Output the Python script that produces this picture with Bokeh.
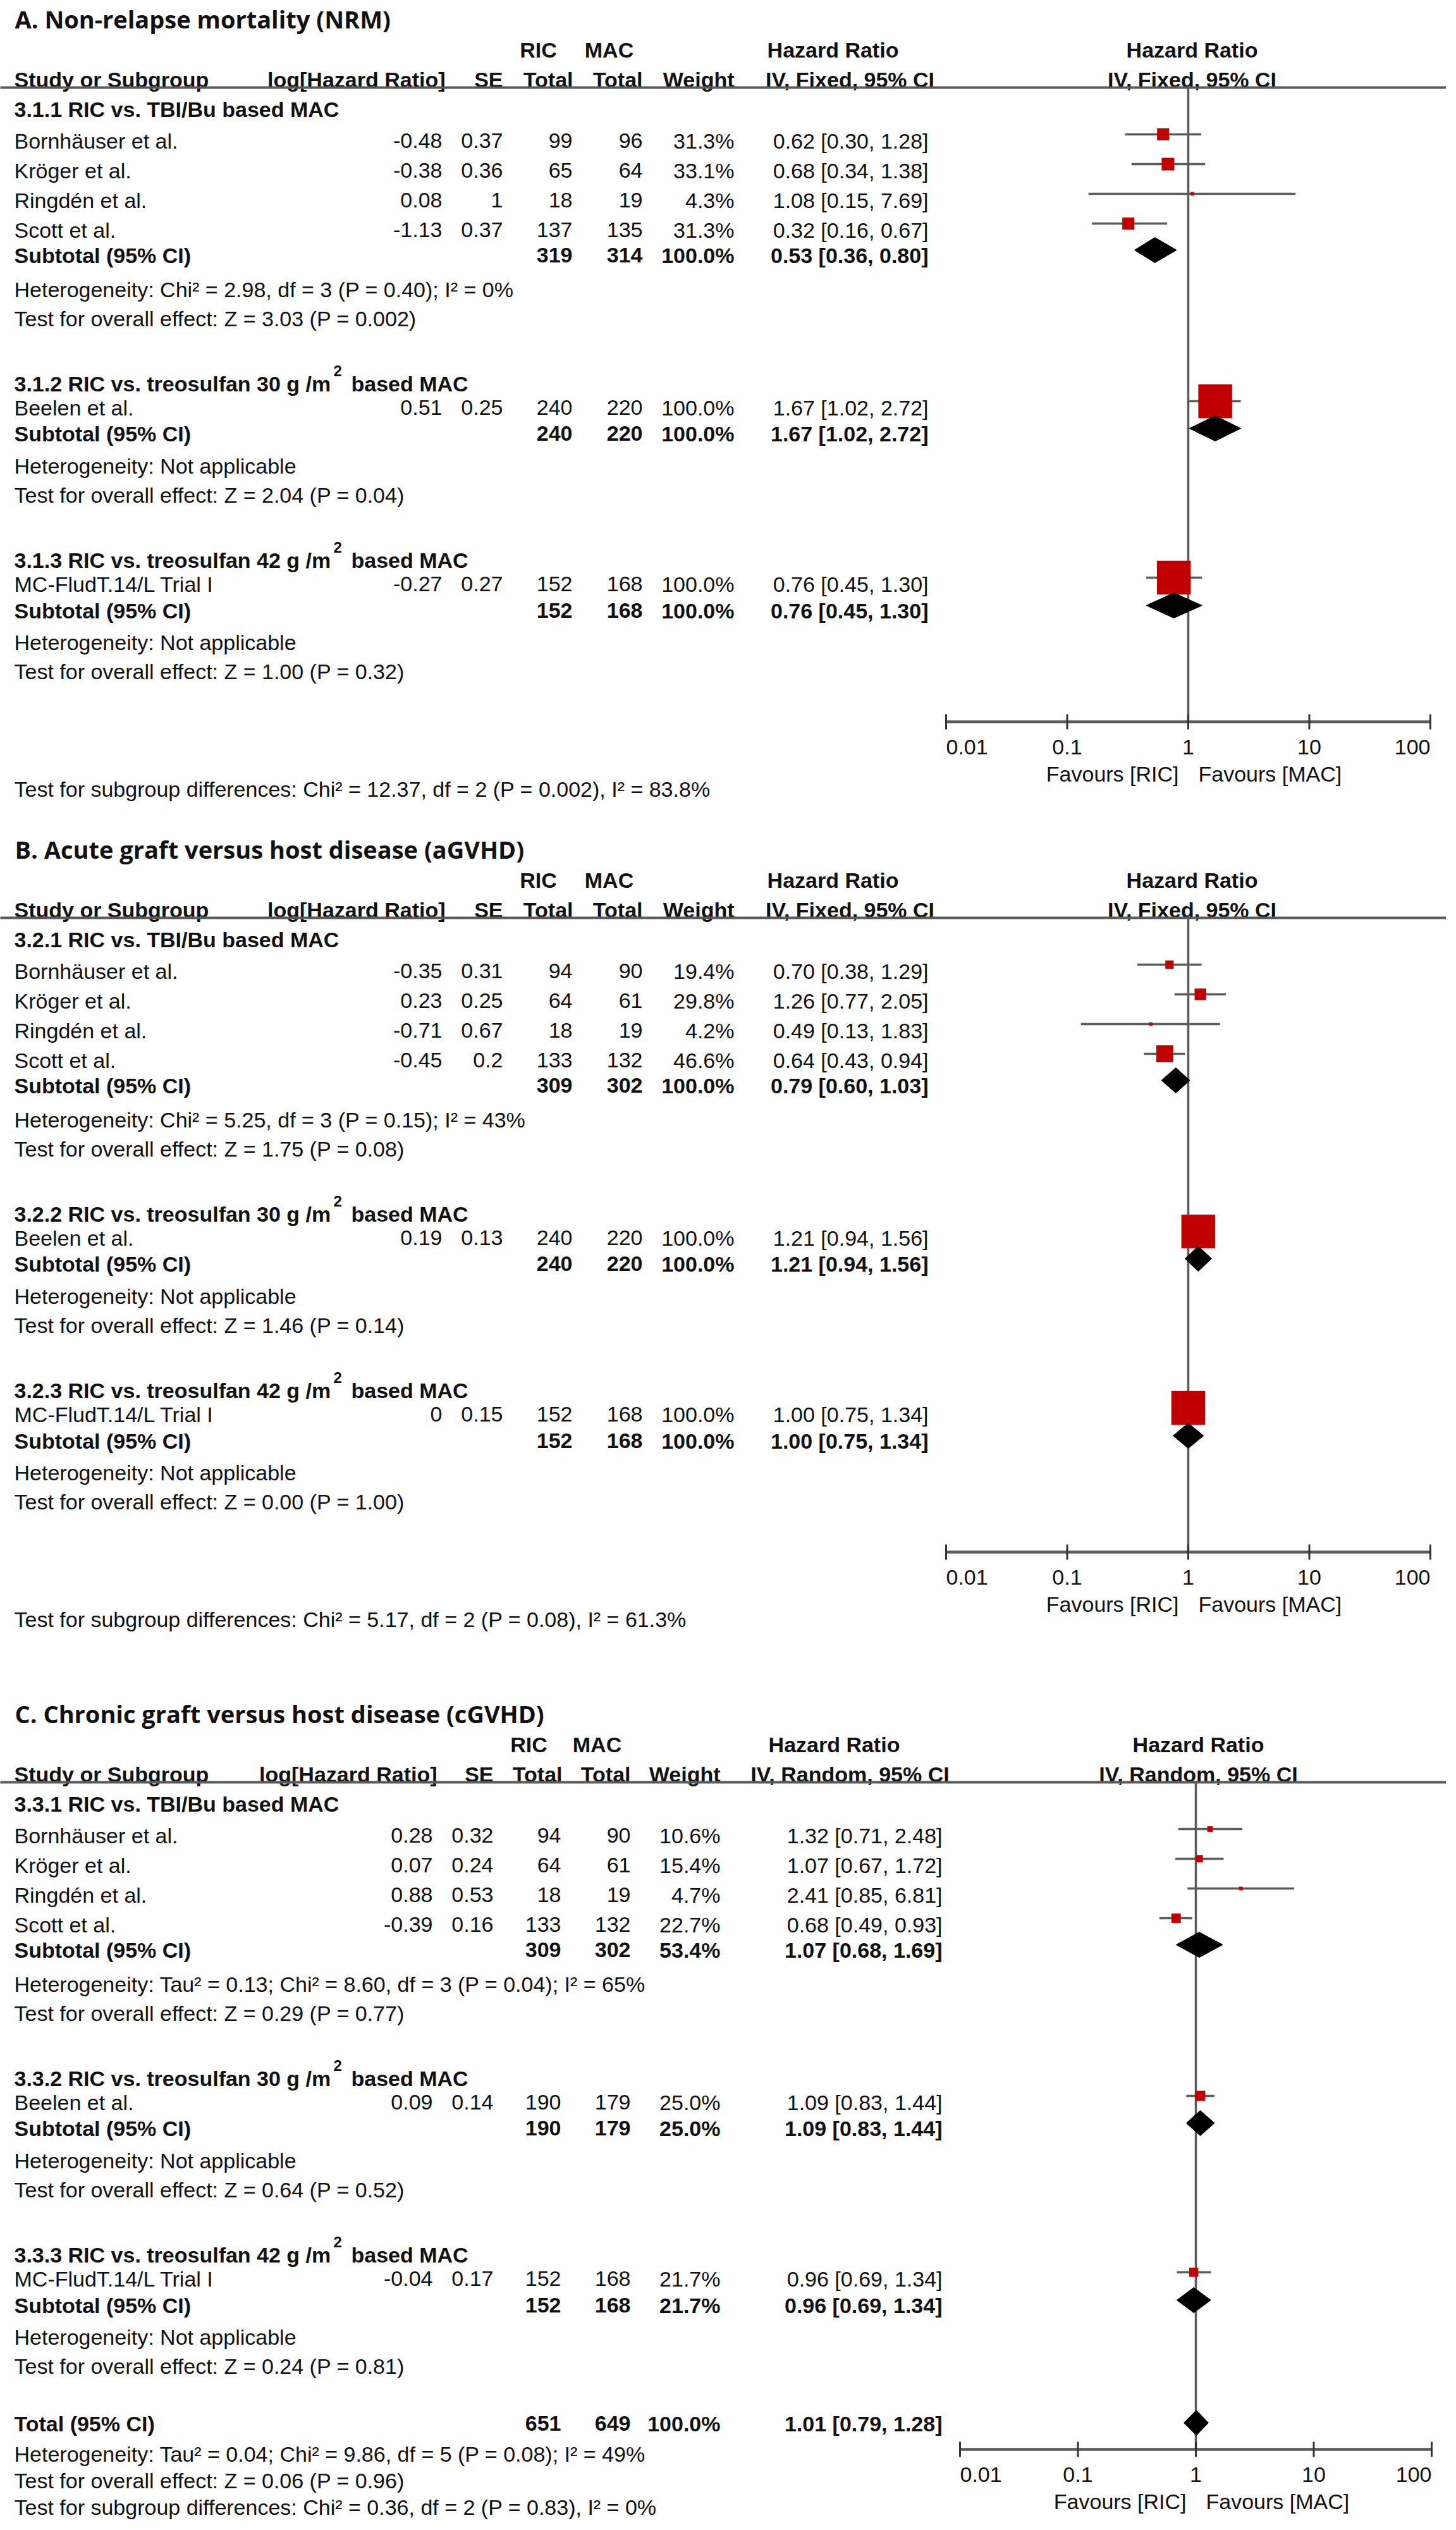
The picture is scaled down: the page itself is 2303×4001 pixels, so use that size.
from bokeh.plotting import figure
from bokeh.models import Range1d, LogScale, ColumnDataSource
from bokeh.core.properties import value
from bokeh.embed import file_html
from bokeh.resources import INLINE

# ======================= DATA =======================
studies = ["Bornhäuser et al.", "Kröger et al.", "Ringdén et al.", "Scott et al.",
           "Beelen et al.", "MC-FludT.14/L Trial I"]
study_group = [0, 0, 0, 0, 1, 2]

titles = ["A. Non-relapse mortality (NRM)",
          "B. Acute graft versus host disease (aGVHD)",
          "C. Chronic graft versus host disease (cGVHD)"]
methods = ["IV, Fixed, 95% CI", "IV, Fixed, 95% CI", "IV, Random, 95% CI"]

groups_A = ["3.1.1 RIC vs. TBI/Bu based MAC", "3.1.2 RIC vs. treosulfan 30 g /m", "3.1.3 RIC vs. treosulfan 42 g /m"]
groups_B = ["3.2.1 RIC vs. TBI/Bu based MAC", "3.2.2 RIC vs. treosulfan 30 g /m", "3.2.3 RIC vs. treosulfan 42 g /m"]
groups_C = ["3.3.1 RIC vs. TBI/Bu based MAC", "3.3.2 RIC vs. treosulfan 30 g /m", "3.3.3 RIC vs. treosulfan 42 g /m"]
group_sup = ["", "2", "2"]
group_tail = ["", "based MAC", "based MAC"]

# Panel A (NRM)
loghr_A = ["-0.48", "-0.38", "0.08", "-1.13", "0.51", "-0.27"]
se_A = ["0.37", "0.36", "1", "0.37", "0.25", "0.27"]
ric_A = [99, 65, 18, 137, 240, 152]
mac_A = [96, 64, 19, 135, 220, 168]
w_A = [31.3, 33.1, 4.3, 31.3, 100.0, 100.0]
hr_A = [0.62, 0.68, 1.08, 0.32, 1.67, 0.76]
lo_A = [0.30, 0.34, 0.15, 0.16, 1.02, 0.45]
hi_A = [1.28, 1.38, 7.69, 0.67, 2.72, 1.30]
sub_ric_A = [319, 240, 152]
sub_mac_A = [314, 220, 168]
sub_w_A = [100.0, 100.0, 100.0]
sub_hr_A = [0.53, 1.67, 0.76]
sub_lo_A = [0.36, 1.02, 0.45]
sub_hi_A = [0.80, 2.72, 1.30]
het_A = ["Heterogeneity: Chi\u00b2 = 2.98, df = 3 (P = 0.40); I\u00b2 = 0%",
         "Heterogeneity: Not applicable", "Heterogeneity: Not applicable"]
z_A = ["Test for overall effect: Z = 3.03 (P = 0.002)",
       "Test for overall effect: Z = 2.04 (P = 0.04)",
       "Test for overall effect: Z = 1.00 (P = 0.32)"]
diff_A = "Test for subgroup differences: Chi\u00b2 = 12.37, df = 2 (P = 0.002), I\u00b2 = 83.8%"

# Panel B (aGVHD)
loghr_B = ["-0.35", "0.23", "-0.71", "-0.45", "0.19", "0"]
se_B = ["0.31", "0.25", "0.67", "0.2", "0.13", "0.15"]
ric_B = [94, 64, 18, 133, 240, 152]
mac_B = [90, 61, 19, 132, 220, 168]
w_B = [19.4, 29.8, 4.2, 46.6, 100.0, 100.0]
hr_B = [0.70, 1.26, 0.49, 0.64, 1.21, 1.00]
lo_B = [0.38, 0.77, 0.13, 0.43, 0.94, 0.75]
hi_B = [1.29, 2.05, 1.83, 0.94, 1.56, 1.34]
sub_ric_B = [309, 240, 152]
sub_mac_B = [302, 220, 168]
sub_w_B = [100.0, 100.0, 100.0]
sub_hr_B = [0.79, 1.21, 1.00]
sub_lo_B = [0.60, 0.94, 0.75]
sub_hi_B = [1.03, 1.56, 1.34]
het_B = ["Heterogeneity: Chi\u00b2 = 5.25, df = 3 (P = 0.15); I\u00b2 = 43%",
         "Heterogeneity: Not applicable", "Heterogeneity: Not applicable"]
z_B = ["Test for overall effect: Z = 1.75 (P = 0.08)",
       "Test for overall effect: Z = 1.46 (P = 0.14)",
       "Test for overall effect: Z = 0.00 (P = 1.00)"]
diff_B = "Test for subgroup differences: Chi\u00b2 = 5.17, df = 2 (P = 0.08), I\u00b2 = 61.3%"

# Panel C (cGVHD)
loghr_C = ["0.28", "0.07", "0.88", "-0.39", "0.09", "-0.04"]
se_C = ["0.32", "0.24", "0.53", "0.16", "0.14", "0.17"]
ric_C = [94, 64, 18, 133, 190, 152]
mac_C = [90, 61, 19, 132, 179, 168]
w_C = [10.6, 15.4, 4.7, 22.7, 25.0, 21.7]
hr_C = [1.32, 1.07, 2.41, 0.68, 1.09, 0.96]
lo_C = [0.71, 0.67, 0.85, 0.49, 0.83, 0.69]
hi_C = [2.48, 1.72, 6.81, 0.93, 1.44, 1.34]
sub_ric_C = [309, 190, 152]
sub_mac_C = [302, 179, 168]
sub_w_C = [53.4, 25.0, 21.7]
sub_hr_C = [1.07, 1.09, 0.96]
sub_lo_C = [0.68, 0.83, 0.69]
sub_hi_C = [1.69, 1.44, 1.34]
het_C = ["Heterogeneity: Tau\u00b2 = 0.13; Chi\u00b2 = 8.60, df = 3 (P = 0.04); I\u00b2 = 65%",
         "Heterogeneity: Not applicable", "Heterogeneity: Not applicable"]
z_C = ["Test for overall effect: Z = 0.29 (P = 0.77)",
       "Test for overall effect: Z = 0.64 (P = 0.52)",
       "Test for overall effect: Z = 0.24 (P = 0.81)"]
total_ric_C = 651
total_mac_C = 649
total_w_C = 100.0
total_hr_C = 1.01
total_lo_C = 0.79
total_hi_C = 1.28
total_het_C = "Heterogeneity: Tau\u00b2 = 0.04; Chi\u00b2 = 9.86, df = 5 (P = 0.08); I\u00b2 = 49%"
total_z_C = "Test for overall effect: Z = 0.06 (P = 0.96)"
diff_C = "Test for subgroup differences: Chi\u00b2 = 0.36, df = 2 (P = 0.83), I\u00b2 = 0%"

tick_vals = [0.01, 0.1, 1, 10, 100]
tick_labels = ["0.01", "0.1", "1", "10", "100"]

# ======================= LAYOUT / STYLE =======================
W, H, M = 2287, 3985, 8
FONT = "Liberation Sans"
TITLE_FONT = "Open Sans"
FS = 34
TXT = "#111111"
LINE = "#5a5a5a"
RED = "#C00000"

# row positions relative to panel top
TITLE_Y, HDR1_Y, HDR2_Y, RULE_Y = 37, 86, 133, 146
GROUP_Y = [180, 614, 893]
STUDY_Y = [230, 277, 324, 371, 652, 931]
SUB_Y = [411, 693, 973]
HET_Y = [465, 744, 1023]
Z_Y = [511, 790, 1069]

COLS_AB = dict(loghr=707, se=803, ric=913, mac=1024, w=1169, ci=1476,
               h_loghr=712, h_se=803, h_ric=914, h_mac=1024, ric_c=859, mac_c=971,
               hr_c=1325, iv_c=1352, fp_c=1893, sup_x=535, tail_x=563)
COLS_C = dict(loghr=692, se=788, ric=895, mac=1005, w=1147, ci=1498,
              h_loghr=699, h_se=788, h_ric=897, h_mac=1005, ric_c=844, mac_c=952,
              hr_c=1327, iv_c=1352, fp_c=1903, sup_x=535, tail_x=563)

p = figure(width=W, height=H, x_range=Range1d(M, M + W), y_range=Range1d(M + H, M),
           output_backend="svg", toolbar_location=None,
           x_axis_type=None, y_axis_type=None, min_border=0)
p.outline_line_color = None
p.background_fill_color = "white"
p.border_fill_color = "white"


def log_range(x_one, decade):
    return Range1d(10 ** ((M - x_one) / decade), 10 ** ((M + W - x_one) / decade))


# position of HR = 1 and pixels per decade for each forest axis
p.extra_x_ranges = {"hrAB": log_range(1887, 191.5), "hrC": log_range(1899, 186.5)}
p.extra_x_scales = {"hrAB": LogScale(), "hrC": LogScale()}


def T(xs, ys, texts, align="left", bold=False, size=FS, font=FONT, rng=None, x_offset=0):
    src = ColumnDataSource(dict(x=list(xs), y=list(ys), t=list(texts)))
    kw = {"x_range_name": rng} if rng else {}
    p.text(x="x", y="y", text="t", source=src, text_align=align, text_baseline="middle",
           text_font=value(font), text_font_size=f"{size}px",
           text_font_style="bold" if bold else "normal", text_color=TXT,
           x_offset=x_offset, **kw)


def ci_str(h, l, u):
    return f"{h:.2f} [{l:.2f}, {u:.2f}]"


def draw_panel(off, title, method, cols, rng, groups, loghr, se, ric, mac, w, hr, lo, hi,
               sub_ric, sub_mac, sub_w, sub_hr, sub_lo, sub_hi, het, zt, diff,
               axis_y, diff_y, total=None):
    Y = lambda v: [off + t for t in v]
    n = len(studies)
    # titles and headers
    T([31], [off + TITLE_Y], [title], bold=True, size=38, font=TITLE_FONT)
    T([cols["ric_c"], cols["mac_c"], cols["hr_c"]], [off + HDR1_Y] * 3,
      ["RIC", "MAC", "Hazard Ratio"], align="center", bold=True)
    T([30], [off + HDR2_Y], ["Study or Subgroup"], bold=True)
    T([cols["h_loghr"], cols["h_se"], cols["h_ric"], cols["h_mac"], cols["w"]],
      [off + HDR2_Y] * 5, ["log[Hazard Ratio]", "SE", "Total", "Total", "Weight"],
      align="right", bold=True)
    T([cols["iv_c"]], [off + HDR2_Y], [method], align="center", bold=True)
    T([1, 1], [off + HDR1_Y, off + HDR2_Y], ["Hazard Ratio", method], align="center",
      bold=True, rng=rng, x_offset=cols["fp_c"] - (1887 if rng == "hrAB" else 1899))
    p.segment(x0=[0], x1=[M + W], y0=[off + RULE_Y], y1=[off + RULE_Y],
              line_color=LINE, line_width=4)

    # subgroup headings
    T([30] * 3, Y(GROUP_Y), groups, bold=True)
    sup_idx = [i for i in range(3) if group_sup[i]]
    T([cols["sup_x"]] * len(sup_idx), [off + GROUP_Y[i] - 20 for i in sup_idx],
      [group_sup[i] for i in sup_idx], bold=True, size=24)
    T([cols["tail_x"]] * len(sup_idx), [off + GROUP_Y[i] for i in sup_idx],
      [group_tail[i] for i in sup_idx], bold=True)

    # study rows
    sy = Y(STUDY_Y)
    T([30] * n, sy, studies)
    T([cols["loghr"]] * n, sy, loghr, align="right")
    T([cols["se"]] * n, sy, se, align="right")
    T([cols["ric"]] * n, sy, [str(v) for v in ric], align="right")
    T([cols["mac"]] * n, sy, [str(v) for v in mac], align="right")
    T([cols["w"]] * n, sy, [f"{v:.1f}%" for v in w], align="right")
    T([cols["ci"]] * n, sy, [ci_str(a, b, c) for a, b, c in zip(hr, lo, hi)], align="right")

    # subtotal rows
    uy = Y(SUB_Y)
    T([30] * 3, uy, ["Subtotal (95% CI)"] * 3, bold=True)
    T([cols["ric"]] * 3, uy, [str(v) for v in sub_ric], align="right", bold=True)
    T([cols["mac"]] * 3, uy, [str(v) for v in sub_mac], align="right", bold=True)
    T([cols["w"]] * 3, uy, [f"{v:.1f}%" for v in sub_w], align="right", bold=True)
    T([cols["ci"]] * 3, uy, [ci_str(a, b, c) for a, b, c in zip(sub_hr, sub_lo, sub_hi)],
      align="right", bold=True)
    T([30] * 3, Y(HET_Y), het)
    T([30] * 3, Y(Z_Y), zt)
    T([30], [off + diff_y], [diff])

    # forest plot
    p.segment(x0=[1], x1=[1], y0=[off + RULE_Y], y1=[off + axis_y], line_color=LINE,
              line_width=3.5, x_range_name=rng)
    my = [v - 10 for v in sy]
    p.segment(x0=lo, x1=hi, y0=my, y1=my, line_color=LINE, line_width=3.5, x_range_name=rng)
    p.scatter(x=hr, y=my, size=[3.5 + 0.5 * v for v in w], marker="square",
              fill_color=RED, line_color=None, x_range_name=rng)
    dh = 20
    d_hr, d_lo, d_hi, d_y = list(sub_hr), list(sub_lo), list(sub_hi), [v - 8 for v in uy]
    if total is not None:
        d_hr.append(total["hr"]); d_lo.append(total["lo"]); d_hi.append(total["hi"])
        d_y.append(off + total["y"] - 1)
    p.patches(xs=[[l, h, u, h] for h, l, u in zip(d_hr, d_lo, d_hi)],
              ys=[[y, y - dh, y, y + dh] for y in d_y],
              fill_color="black", line_color="black", line_width=1, x_range_name=rng)

    # axis
    ay = off + axis_y
    p.segment(x0=[tick_vals[0]], x1=[tick_vals[-1]], y0=[ay], y1=[ay], line_color=LINE,
              line_width=4.5, x_range_name=rng)
    p.segment(x0=tick_vals, x1=tick_vals, y0=[ay - 12] * 5, y1=[ay + 12] * 5,
              line_color="#333333", line_width=3, x_range_name=rng)
    T(tick_vals[:1], [ay + 40], tick_labels[:1], align="left", rng=rng)
    T(tick_vals[1:4], [ay + 40] * 3, tick_labels[1:4], align="center", rng=rng)
    T(tick_vals[4:], [ay + 40], tick_labels[4:], align="right", rng=rng)
    T([1], [ay + 82], ["Favours [RIC]"], align="right", rng=rng, x_offset=-15)
    T([1], [ay + 82], ["Favours [MAC]"], align="left", rng=rng, x_offset=16)

    if total is not None:
        ty = off + total["y"]
        T([30], [ty], ["Total (95% CI)"], bold=True)
        T([cols["ric"], cols["mac"], cols["w"], cols["ci"]], [ty] * 4,
          [str(total["ric"]), str(total["mac"]), f"{total['w']:.1f}%",
           ci_str(total["hr"], total["lo"], total["hi"])], align="right", bold=True)
        T([30, 30], [off + total["het_y"], off + total["z_y"]], [total["het"], total["z"]])


draw_panel(0, titles[0], methods[0], COLS_AB, "hrAB", groups_A, loghr_A, se_A, ric_A, mac_A,
           w_A, hr_A, lo_A, hi_A, sub_ric_A, sub_mac_A, sub_w_A, sub_hr_A, sub_lo_A, sub_hi_A,
           het_A, z_A, diff_A, axis_y=1149, diff_y=1255)
draw_panel(1313, titles[1], methods[1], COLS_AB, "hrAB", groups_B, loghr_B, se_B, ric_B, mac_B,
           w_B, hr_B, lo_B, hi_B, sub_ric_B, sub_mac_B, sub_w_B, sub_hr_B, sub_lo_B, sub_hi_B,
           het_B, z_B, diff_B, axis_y=1149, diff_y=1255)
draw_panel(2680, titles[2], methods[2], COLS_C, "hrC", groups_C, loghr_C, se_C, ric_C, mac_C,
           w_C, hr_C, lo_C, hi_C, sub_ric_C, sub_mac_C, sub_w_C, sub_hr_C, sub_lo_C, sub_hi_C,
           het_C, z_C, diff_C, axis_y=1201, diff_y=1292,
           total=dict(y=1160, ric=total_ric_C, mac=total_mac_C, w=total_w_C, hr=total_hr_C,
                      lo=total_lo_C, hi=total_hi_C, het=total_het_C, z=total_z_C,
                      het_y=1208, z_y=1250))

open("out.html", "w").write(file_html(p, INLINE))
